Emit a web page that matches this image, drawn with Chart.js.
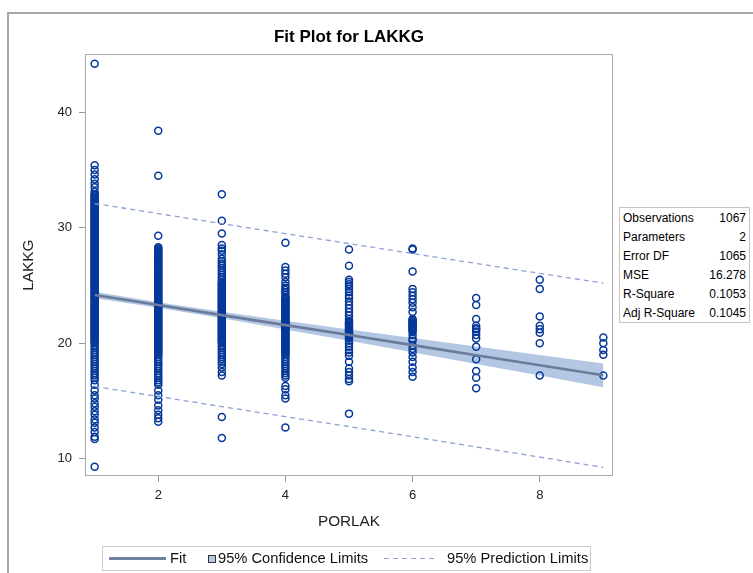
<!DOCTYPE html>
<html>
<head>
<meta charset="utf-8">
<title>Fit Plot for LAKKG</title>
<script src="https://cdn.jsdelivr.net/npm/chart.js@4.4.1/dist/chart.umd.min.js"></script>
<style>
  html, body { margin: 0; padding: 0; background: #fff; overflow: hidden; }
  #wrap { position: relative; width: 753px; height: 573px; font-family: "Liberation Sans", Arial, sans-serif; color: #000; }
  #frame { position: absolute; left: 7px; top: 12px; width: 800px; height: 640px; border: 2px solid #a6a6a6; }
  #plot { position: absolute; left: 0; top: 0; }
  #stats { position: absolute; left: 619px; top: 207px; width: 131px; border: 1px solid #c4c4c4; border-collapse: collapse; font-size: 12px; background: #fff; }
  #stats td { height: 19px; padding: 0 3px 0 3px; white-space: nowrap; }
  #stats td.v { text-align: right; }
  #legend { position: absolute; left: 102px; top: 546px; width: 487px; height: 23px; border: 1px solid #cdcdcd; font-size: 14.7px; color: #111; }
  #legend span { position: absolute; }
  #legend .txt { top: 0; line-height: 23px; }
</style>
</head>
<body>
<div id="wrap">
  <div id="frame"></div>
  <canvas id="plot" width="753" height="573"></canvas>
  <table id="stats"></table>
  <div id="legend">
    <span style="left:6px;top:10px;width:57px;height:3px;background:#6f80a0"></span>
    <span class="txt" style="left:67px" id="lg0"></span>
    <span style="left:105px;top:8px;width:8px;height:8px;box-sizing:border-box;border:1px solid #333;background:#b3c7e3"></span>
    <span class="txt" style="left:115px" id="lg1"></span>
    <span style="left:281px;top:11px;width:53px;height:1px;background:repeating-linear-gradient(to right,#8e9fd9 0 5px,transparent 5px 9px)"></span>
    <span class="txt" style="left:344px" id="lg2"></span>
  </div>
</div>
<script>
// ── data ──────────────────────────────────────────────────────
const porlak = [1, 2, 3, 4, 5, 6, 7, 8, 9];

// LAKKG observations, one list per PORLAK value
const lakkgP1 = [
  44.2, 35.4, 35.0, 34.6, 34.2, 33.8, 33.5, 33.1,
  32.9, 32.8, 32.7, 32.6, 32.5, 32.4, 32.3, 32.2, 32.1, 32.0,
  31.9, 31.8, 31.7, 31.6, 31.5, 31.4, 31.3, 31.2, 31.1, 31.0,
  30.9, 30.8, 30.7, 30.6, 30.5, 30.4, 30.3, 30.2, 30.1, 30.0,
  29.9, 29.8, 29.7, 29.6, 29.5, 29.4, 29.3, 29.2, 29.1, 29.0,
  28.9, 28.8, 28.7, 28.6, 28.5, 28.4, 28.3, 28.2, 28.1, 28.0,
  27.9, 27.8, 27.7, 27.6, 27.5, 27.4, 27.3, 27.2, 27.1, 27.0,
  26.9, 26.8, 26.7, 26.6, 26.5, 26.4, 26.3, 26.2, 26.1, 26.0,
  25.9, 25.8, 25.7, 25.6, 25.5, 25.4, 25.3, 25.2, 25.1, 25.0,
  24.9, 24.8, 24.7, 24.6, 24.5, 24.4, 24.3, 24.2, 24.1, 24.0,
  23.9, 23.8, 23.7, 23.6, 23.5, 23.4, 23.3, 23.2, 23.1, 23.0,
  22.9, 22.8, 22.7, 22.6, 22.5, 22.4, 22.3, 22.2, 22.1, 22.0,
  21.9, 21.8, 21.7, 21.6, 21.5, 21.4, 21.3, 21.2, 21.1, 21.0,
  20.9, 20.8, 20.7, 20.6, 20.5, 20.4, 20.3, 20.2, 20.1, 20.0,
  19.8, 19.6, 19.4, 19.2, 19.0, 18.8, 18.6, 18.4, 18.2, 18.0,
  17.8, 17.6, 17.4, 17.2, 17.0, 16.8,
  16.4, 15.9, 15.5, 15.2, 14.8, 14.5, 14.1, 13.8, 13.4, 13.1,
  12.7, 12.3, 11.9, 11.7, 9.3
];
const lakkgP2 = [
  38.4, 34.5, 29.3,
  28.3, 28.2, 28.1, 28.0,
  27.9, 27.8, 27.7, 27.6, 27.5, 27.4, 27.3, 27.2, 27.1, 27.0,
  26.9, 26.8, 26.7, 26.6, 26.5, 26.4, 26.3, 26.2, 26.1, 26.0,
  25.9, 25.8, 25.7, 25.6, 25.5, 25.4, 25.3, 25.2, 25.1, 25.0,
  24.9, 24.8, 24.7, 24.6, 24.5, 24.4, 24.3, 24.2, 24.1, 24.0,
  23.9, 23.8, 23.7, 23.6, 23.5, 23.4, 23.3, 23.2, 23.1, 23.0,
  22.9, 22.8, 22.7, 22.6, 22.5, 22.4, 22.3, 22.2, 22.1, 22.0,
  21.9, 21.8, 21.7, 21.6, 21.5, 21.4, 21.3, 21.2, 21.1, 21.0,
  20.9, 20.8, 20.7, 20.6, 20.5, 20.4, 20.3, 20.2, 20.1, 20.0,
  19.9, 19.8, 19.7, 19.6, 19.5, 19.4, 19.3, 19.2, 19.1, 19.0,
  18.8, 18.6, 18.4, 18.2, 18.0, 17.8, 17.6, 17.4, 17.2, 17.0,
  16.8, 16.6, 16.4,
  15.9, 15.5, 15.1, 14.6, 14.2, 13.8, 13.5, 13.2
];
const lakkgP3 = [
  32.9, 30.6, 29.5, 28.5, 28.2, 28.0, 27.7,
  27.3, 27.1, 26.9, 26.7, 26.5, 26.3, 26.1, 25.9, 25.7, 25.5, 25.3,
  25.2, 25.1, 25.0, 24.9, 24.8, 24.7, 24.6, 24.5, 24.4, 24.3, 24.2, 24.1, 24.0,
  23.9, 23.8, 23.7, 23.6, 23.5, 23.4, 23.3, 23.2, 23.1, 23.0,
  22.9, 22.8, 22.7, 22.6, 22.5, 22.4, 22.3, 22.2, 22.1, 22.0,
  21.9, 21.8, 21.7, 21.6, 21.5, 21.4, 21.3, 21.2, 21.1, 21.0,
  20.9, 20.8, 20.7, 20.6, 20.5, 20.4, 20.3, 20.2, 20.1, 20.0,
  19.8, 19.6, 19.4, 19.2, 19.0, 18.8, 18.6, 18.4, 18.2,
  17.9, 17.5, 17.2, 13.6, 11.8
];
const lakkgP4 = [
  28.7, 26.6, 26.3, 26.0, 25.7, 25.3,
  25.0, 24.8, 24.6, 24.4, 24.2, 24.0,
  23.9, 23.8, 23.7, 23.6, 23.5, 23.4, 23.3, 23.2, 23.1, 23.0,
  22.9, 22.8, 22.7, 22.6, 22.5, 22.4, 22.3, 22.2, 22.1, 22.0,
  21.9, 21.8, 21.7, 21.6, 21.5, 21.4, 21.3, 21.2, 21.1, 21.0,
  20.9, 20.8, 20.7, 20.6, 20.5, 20.4, 20.3, 20.2, 20.1, 20.0,
  19.9, 19.8, 19.7, 19.6, 19.5, 19.4, 19.3, 19.2, 19.1, 19.0,
  18.8, 18.6, 18.4, 18.2, 18.0, 17.8, 17.6, 17.4, 17.2, 17.0,
  16.3, 16.0, 15.5, 15.2, 12.7
];
const lakkgP5 = [
  28.1, 26.7, 25.5, 25.3, 25.1, 24.9, 24.7, 24.4, 24.1, 23.9,
  23.6, 23.3, 23.0, 22.7, 22.4, 22.1,
  21.9, 21.8, 21.7, 21.6, 21.5, 21.4, 21.3, 21.2, 21.1, 21.0,
  20.9, 20.8, 20.7, 20.6, 20.5, 20.4,
  20.2, 20.0, 19.7, 19.4, 19.2, 18.9, 18.4, 17.8, 17.5, 17.2,
  16.9, 16.7, 13.9
];
const lakkgP6 = [
  28.2, 28.1, 26.2, 24.7, 24.4, 24.1, 23.8, 23.5, 23.1, 22.7,
  22.1, 22.0, 21.9, 21.8, 21.7, 21.6, 21.5, 21.4, 21.3, 21.2, 21.1, 21.0,
  20.7, 20.4, 20.2, 19.8, 19.5, 19.2, 18.8, 18.4, 17.9, 17.5, 17.1
];
const lakkgP7 = [23.9, 23.3, 22.1, 21.5, 21.3, 21.2, 21.0, 20.7, 20.4, 19.7, 18.6, 17.6, 17.0, 16.1];
const lakkgP8 = [25.5, 24.7, 22.3, 21.5, 21.2, 20.9, 20.0, 17.2];
const lakkgP9 = [20.5, 20.0, 19.4, 19.0, 17.2];
const lakkgByPorlak = [lakkgP1, lakkgP2, lakkgP3, lakkgP4, lakkgP5, lakkgP6, lakkgP7, lakkgP8, lakkgP9];

// fitted line, 95% confidence and prediction limits at each PORLAK
const fitLakkg = [24.17, 23.30, 22.43, 21.56, 20.70, 19.83, 18.96, 18.09, 17.22];
const clLower  = [23.89, 23.06, 22.15, 21.18, 20.21, 19.21, 18.20, 17.20, 16.19];
const clUpper  = [24.45, 23.54, 22.71, 21.94, 21.19, 20.45, 19.72, 18.98, 18.25];
const plLower  = [16.25, 15.38, 14.51, 13.64, 12.78, 11.90, 11.02, 10.14, 9.24];
const plUpper  = [32.09, 31.22, 30.35, 29.48, 28.62, 27.76, 26.90, 26.04, 25.20];

const xTicks = [2, 4, 6, 8];
const yTicks = [10, 20, 30, 40];

const statLabels = ["Observations", "Parameters", "Error DF", "MSE", "R-Square", "Adj R-Square"];
const statValues = ["1067", "2", "1065", "16.278", "0.1053", "0.1045"];
const legendLabels = ["Fit", "95% Confidence Limits", "95% Prediction Limits"];

// ── stats table + legend text ─────────────────────────────────
document.getElementById("stats").innerHTML = statLabels
  .map((l, i) => `<tr><td>${l}</td><td class="v">${statValues[i]}</td></tr>`).join("");
legendLabels.forEach((t, i) => { document.getElementById("lg" + i).textContent = t; });

// ── chart ─────────────────────────────────────────────────────
const FONT = "'Liberation Sans', Arial, sans-serif";
const pts = ys => porlak.map((x, i) => ({ x, y: ys[i] }));
const obs = porlak.flatMap((x, i) => lakkgByPorlak[i].map(y => ({ x, y })));

const plotFrame = {
  id: "plotFrame",
  afterDraw(chart) {
    const { ctx, chartArea: a } = chart;
    ctx.save();
    ctx.strokeStyle = "#a9a9a9";
    ctx.lineWidth = 1;
    ctx.strokeRect(Math.round(a.left) + 0.5, Math.round(a.top) + 0.5,
      Math.round(a.right - a.left) - 1, Math.round(a.bottom - a.top) - 1);
    ctx.restore();
  }
};

new Chart(document.getElementById("plot"), {
  type: "scatter",
  data: {
    datasets: [
      { type: "line", label: "CLM lower", data: pts(clLower), borderWidth: 0, pointRadius: 0, fill: false, order: 5 },
      { type: "line", label: "95% Confidence Limits", data: pts(clUpper), borderWidth: 0, pointRadius: 0,
        fill: "-1", backgroundColor: "#b3c7e3", order: 4 },
      { type: "scatter", label: "LAKKG", data: obs, pointRadius: 3.5, pointBorderWidth: 1.5,
        pointBackgroundColor: "rgba(0,0,0,0)", borderColor: "#05389a", pointBorderColor: "#05389a", order: 3 },
      { type: "line", label: "Fit", data: pts(fitLakkg), borderColor: "#6a7b9c", borderWidth: 2.6,
        pointRadius: 0, fill: false, order: 2 },
      { type: "line", label: "95% Prediction Limits", data: pts(plUpper), borderColor: "#8e9fd9", borderWidth: 1.3,
        borderDash: [5, 4], pointRadius: 0, fill: false, order: 1 },
      { type: "line", label: "PL lower", data: pts(plLower), borderColor: "#8e9fd9", borderWidth: 1.3,
        borderDash: [5, 4], pointRadius: 0, fill: false, order: 1 }
    ]
  },
  options: {
    responsive: false,
    animation: false,
    events: [],
    layout: { padding: { left: 0, top: 0, right: 140, bottom: 0 } },
    plugins: {
      legend: { display: false },
      tooltip: { enabled: false },
      title: {
        display: true, text: "Fit Plot for LAKKG", fullSize: false, color: "#000",
        font: { family: FONT, size: 17, weight: "bold" }, padding: { top: 27, bottom: 7 }
      }
    },
    scales: {
      x: {
        type: "linear", min: 0.848, max: 9.152,
        afterBuildTicks: s => { s.ticks = xTicks.map(v => ({ value: v })); },
        afterFit: s => { s.height = 97; },
        grid: { drawOnChartArea: false, drawTicks: true, tickLength: 6, color: "#9a9a9a" },
        border: { display: false },
        ticks: { font: { family: FONT, size: 13 }, color: "#222", padding: 6, maxRotation: 0 },
        title: { display: true, text: "PORLAK", color: "#222", font: { family: FONT, size: 15.3 },
          padding: { top: 0, bottom: 42 } }
      },
      y: {
        type: "linear", min: 8.5, max: 45,
        afterBuildTicks: s => { s.ticks = yTicks.map(v => ({ value: v })); },
        afterFit: s => { s.width = 85; },
        grid: { drawOnChartArea: false, drawTicks: true, tickLength: 6, color: "#9a9a9a" },
        border: { display: false },
        ticks: { font: { family: FONT, size: 13 }, color: "#222", padding: 7 },
        title: { display: true, text: "LAKKG", color: "#222", font: { family: FONT, size: 15.3 },
          padding: { top: 20, bottom: 0 } }
      }
    }
  },
  plugins: [plotFrame]
});
</script>
</body>
</html>
